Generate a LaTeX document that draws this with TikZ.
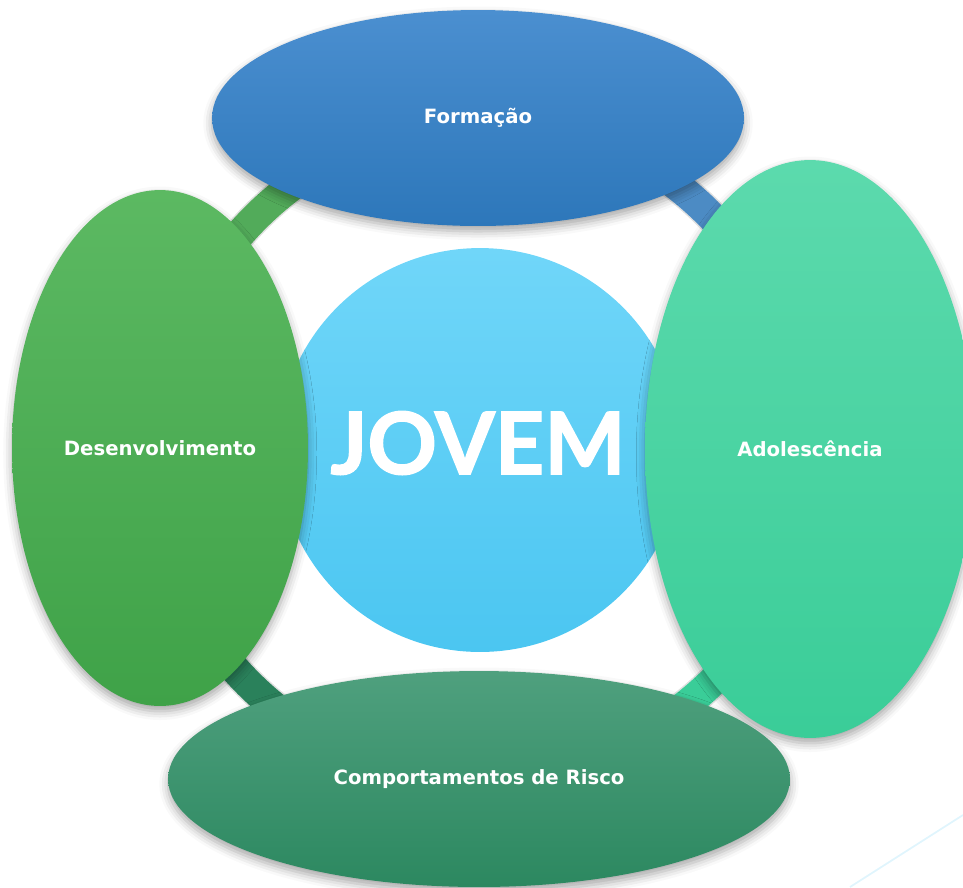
\documentclass[tikz,border=0pt]{standalone}
\usepackage{fontspec}
\setmainfont{DejaVu Sans}
\newfontfamily\bigfont{Lato}[BoldFeatures={FakeBold=1.6}]
\usetikzlibrary{shapes.geometric,shadows.blur}
\pgfdeclarelayer{background}
\pgfsetlayers{background,main}

\definecolor{formTop}{HTML}{4B8FD0}
\definecolor{formBot}{HTML}{2D77BA}
\definecolor{desTop}{HTML}{5CB962}
\definecolor{desBot}{HTML}{3FA248}
\definecolor{adoTop}{HTML}{5CDAAD}
\definecolor{adoBot}{HTML}{3ACD98}
\definecolor{comTop}{HTML}{4FA07E}
\definecolor{comBot}{HTML}{2C8860}
\definecolor{jovTop}{HTML}{70D6F9}
\definecolor{jovBot}{HTML}{4BC6F1}

\tikzset{
  bubble/.style={ellipse, inner sep=0pt, text=white, font=\bfseries\fontsize{11.2}{13}\selectfont,
    blur shadow={shadow xshift=0pt, shadow yshift=-3pt, shadow blur radius=5pt, shadow opacity=35}},
  ring/.style={line width=0.6cm},
  ringshadow/.style={line width=0.66cm, color=black, opacity=0.12, yshift=-2pt}
}

\begin{document}
\begin{tikzpicture}[x=0.02cm, y=-0.02cm]
    \useasboundingbox (0,0) rectangle (963,887);
    % centro
    \node[circle, minimum size=8.08cm, inner sep=0pt, top color=jovTop, bottom color=jovBot] (jovem) at (480,450) {};
    \node[text=white, font=\bigfont\bfseries\fontsize{49}{58}\selectfont] (jovemtxt) at (478,443) {JOVEM};
    % os quatro temas
    \node[bubble, minimum width=10.64cm, minimum height=4.32cm, top color=formTop, bottom color=formBot] (formacao) at (478,118) {Formação};
    \node[bubble, minimum width=6.6cm, minimum height=11.56cm, top color=adoTop, bottom color=adoBot] (adolescencia) at (810,449) {Adolescência};
    \node[bubble, minimum width=12.44cm, minimum height=4.32cm, top color=comTop, bottom color=comBot] (comportamentos) at (479,779) {Comportamentos de Risco};
    \node[bubble, minimum width=5.92cm, minimum height=10.32cm, top color=desTop, bottom color=desBot] (desenvolvimento) at (160,448) {Desenvolvimento};
    % anel
    \begin{pgfonlayer}{background}
    \draw[ringshadow] (formacao.center) arc[start angle=-90, end angle=0, radius=326];
    \draw[ringshadow] (adolescencia.center) arc[start angle=0, end angle=90, radius=326];
    \draw[ringshadow] (comportamentos.center) arc[start angle=90, end angle=180, radius=326];
    \draw[ringshadow] (desenvolvimento.center) arc[start angle=180, end angle=270, radius=326];
    \draw[ring, color=formBot!85!white] (formacao.center) arc[start angle=-90, end angle=0, radius=326];
    \draw[ring, color=adoBot] (adolescencia.center) arc[start angle=0, end angle=90, radius=326];
    \draw[ring, color=comBot!95!black] (comportamentos.center) arc[start angle=90, end angle=180, radius=326];
    \draw[ring, color=desBot!90!white] (desenvolvimento.center) arc[start angle=180, end angle=270, radius=326];
    \end{pgfonlayer}
    % traço claro no canto
    \coordinate (c1) at (850,887);
    \coordinate (c2) at (963,815);
    \draw[line width=1pt, color=cyan!12] (c1) -- (c2);
\end{tikzpicture}
\end{document}
